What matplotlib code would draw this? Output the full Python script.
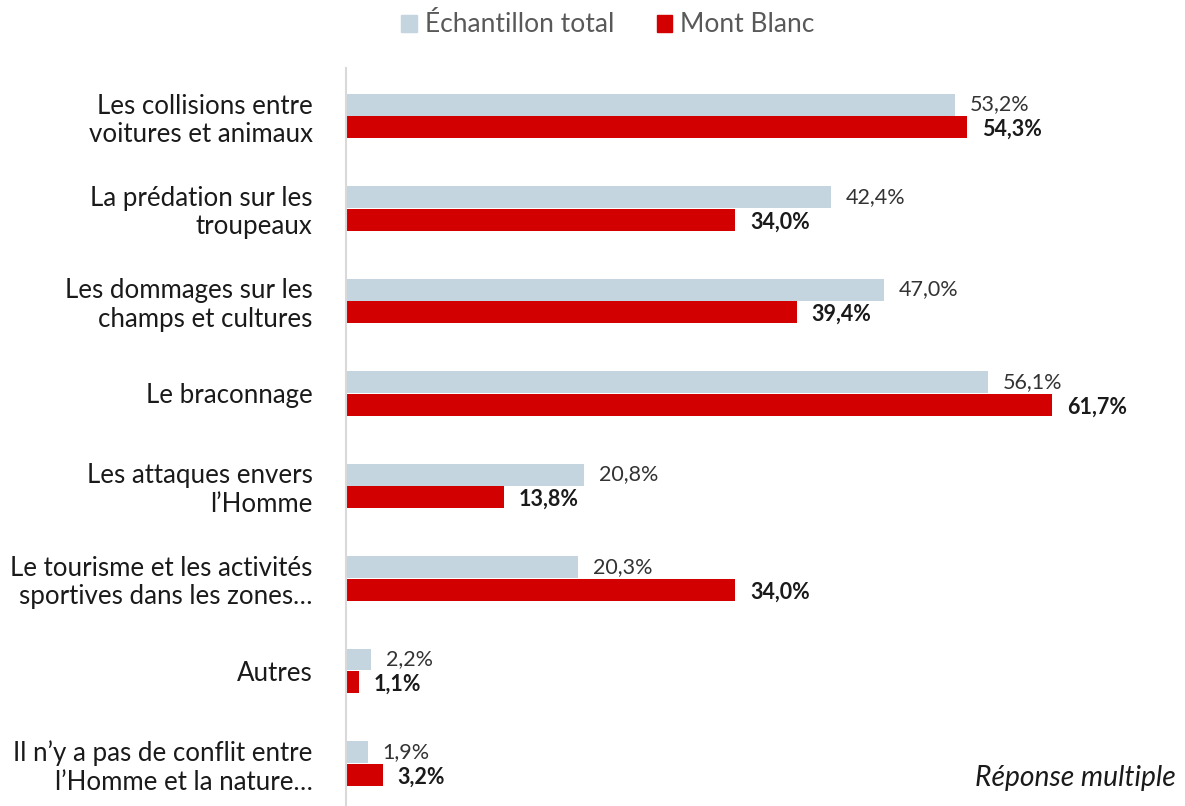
import numpy as np
import matplotlib.pyplot as plt
from matplotlib.patches import Patch

plt.rcParams['font.family'] = ['Lato', 'DejaVu Sans']

categories = [
    "Les collisions entre\nvoitures et animaux",
    "La prédation sur les\ntroupeaux",
    "Les dommages sur les\nchamps et cultures",
    "Le braconnage",
    "Les attaques envers\nl\u2019Homme",
    "Le tourisme et les activités\nsportives dans les zones\u2026",
    "Autres",
    "Il n\u2019y a pas de conflit entre\nl\u2019Homme et la nature\u2026",
]
total = [53.2, 42.4, 47.0, 56.1, 20.8, 20.3, 2.2, 1.9]
mont_blanc = [54.3, 34.0, 39.4, 61.7, 13.8, 34.0, 1.1, 3.2]
series_names = ["Échantillon total", "Mont Blanc"]

c_total = '#C5D5DF'
c_mb = '#D20000'

W, H = 1185, 806
fig = plt.figure(figsize=(W / 100, H / 100), dpi=100)
ax = fig.add_axes([346 / W, 0, 1 - 346 / W, 1 - 68 / H])

y = np.arange(len(categories))
h = 0.235
ax.barh(y - h / 2 - 0.005, total, height=h, color=c_total)
ax.barh(y + h / 2 + 0.005, mont_blanc, height=h, color=c_mb)

for yi, v in zip(y, total):
    ax.text(v + 1.3, yi - h / 2 - 0.01, f"{v:.1f}%".replace('.', ','), va='center',
            ha='left', fontsize=15.5, color='#333333')
for yi, v in zip(y, mont_blanc):
    ax.text(v + 1.3, yi + h / 2 + 0.03, f"{v:.1f}%".replace('.', ','), va='center',
            ha='left', fontsize=15.5, fontweight='bold', color='#1a1a1a')

ax.set_xlim(0, (W - 346) / 11.44)
ax.set_ylim(7.46, -0.519)
ax.set_yticks(y)
ax.set_yticklabels(categories, fontsize=18.6, color='#1a1a1a', linespacing=1.17)
ax.tick_params(axis='y', length=0, pad=24)
ax.set_xticks([])
for s in ['top', 'right', 'bottom']:
    ax.spines[s].set_visible(False)
ax.spines['left'].set_color('#D9D9D9')
ax.spines['left'].set_linewidth(1.5)

handles = [Patch(color=c_total), Patch(color=c_mb)]
fig.legend(handles, series_names, loc='center', bbox_to_anchor=(608 / W, 1 - 25 / H),
           ncol=2, frameon=False, fontsize=19, handlelength=0.6, handleheight=0.6,
           columnspacing=1.6, handletextpad=0.3, labelcolor='#595959')

fig.text(1176 / W, 1 - 778 / H, "Réponse multiple", ha='right', va='center',
         fontsize=20.3, style='italic', color='#1a1a1a')

fig.savefig('out.png', dpi=100)
